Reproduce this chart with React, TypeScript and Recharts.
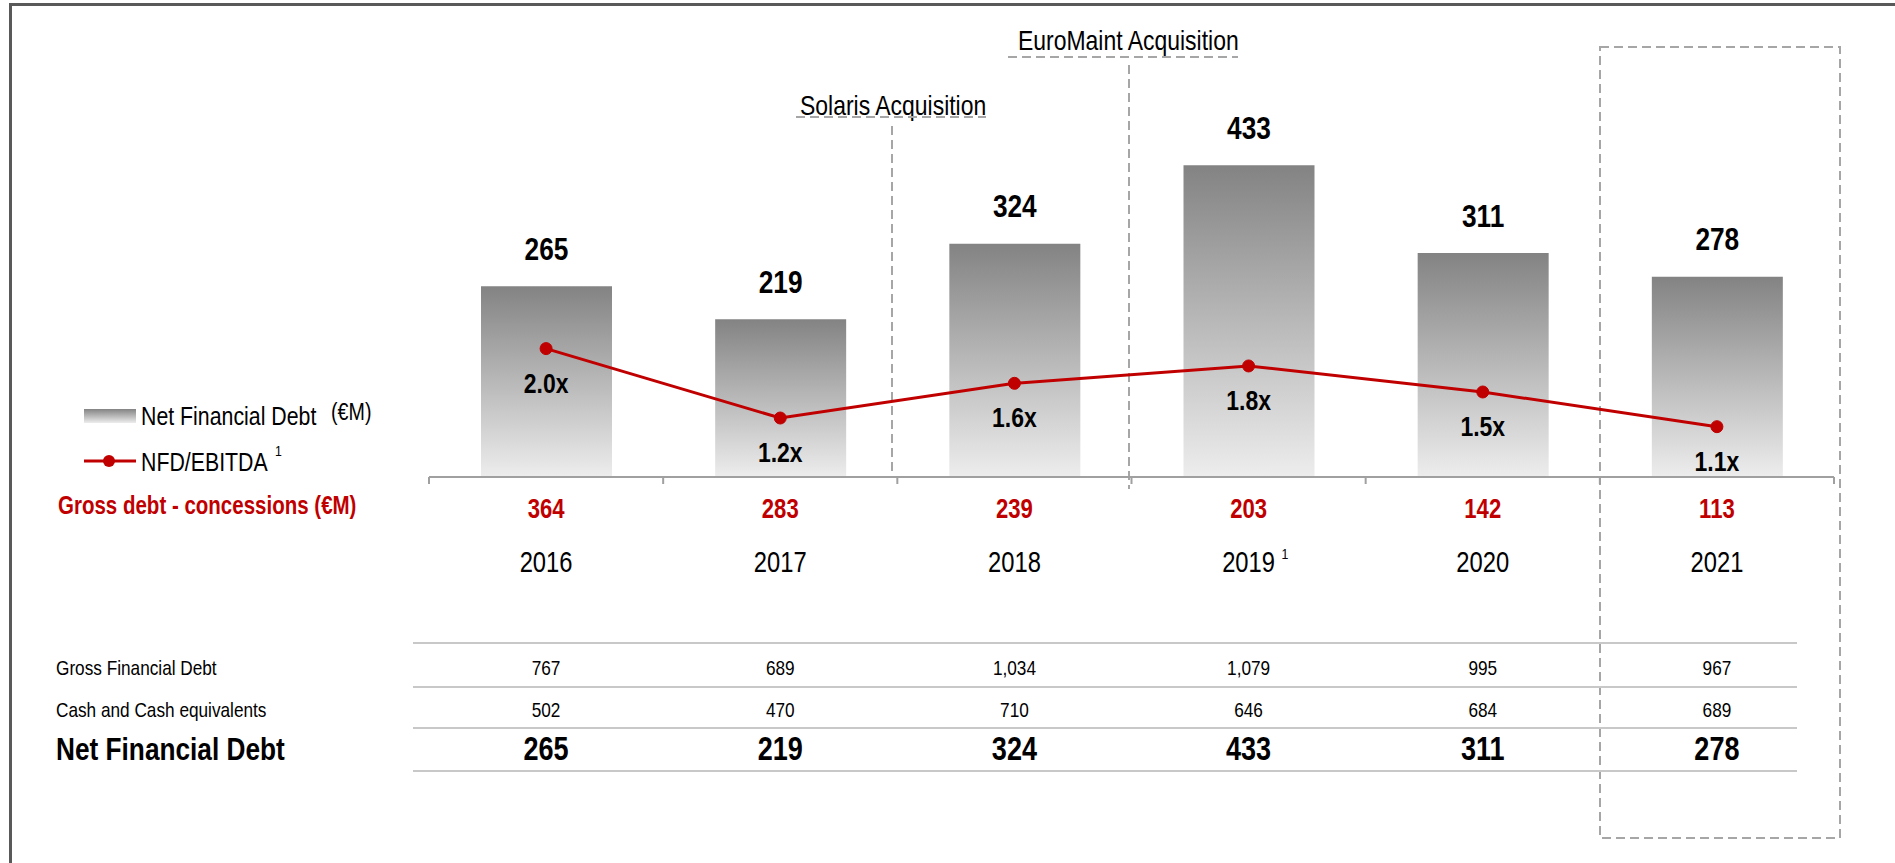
import { ComposedChart, Bar, Line, XAxis, YAxis, LabelList } from 'recharts';

const years = ['2016', '2017', '2018', '2019', '2020', '2021'];
const yearNotes = ['', '', '', '1', '', ''];
const netFinancialDebt = [265, 219, 324, 433, 311, 278];
const nfdEbitda = [2.0, 1.2, 1.6, 1.8, 1.5, 1.1];
const grossDebtConcessions = [364, 283, 239, 203, 142, 113];
const grossFinancialDebt = [767, 689, 1034, 1079, 995, 967];
const cashEquivalents = [502, 470, 710, 646, 684, 689];

const chartData = years.map((year, i) => ({
  year,
  nfd: netFinancialDebt[i],
  ratio: nfdEbitda[i]
}));

const FONT = "'Liberation Sans', Arial, sans-serif";
const NARROW = 0.82; // Arial Narrow is about 82% the width of Arial
const RED = '#C00000';
const DASH = '#a6a6a6';
const W = 1895;
const H = 863;
const PLOT_LEFT = 429;
const PLOT_RIGHT = 1834;
const PLOT_TOP = 117;
const PLOT_BOTTOM = 477;
const AXIS_H = 30;
const HALF_BAND = (PLOT_RIGHT - PLOT_LEFT) / years.length / 2;

const fmt = (n: number) => n.toLocaleString('en-US');

// narrow text, `cy` is where the middle of the capitals should sit
function NText({
  x,
  cy,
  size,
  bold = false,
  fill = '#000',
  anchor = 'start',
  children
}: {
  x: number;
  cy: number;
  size: number;
  bold?: boolean;
  fill?: string;
  anchor?: 'start' | 'middle' | 'end';
  children: any;
}) {
  return (
    <text
      transform={`translate(${x},${cy + size * 0.36}) scale(${NARROW},1)`}
      textAnchor={anchor}
      fontFamily={FONT}
      fontSize={size}
      fontWeight={bold ? 'bold' : 'normal'}
      fill={fill}
    >
      {children}
    </text>
  );
}

function CategoryTick(props: any) {
  const { x, payload } = props;
  const i = years.indexOf(payload.value);
  return (
    <g>
      <line x1={x - HALF_BAND} x2={x - HALF_BAND} y1={PLOT_BOTTOM} y2={PLOT_BOTTOM + 7} stroke="#a0a0a0" strokeWidth={2} />
      {i === years.length - 1 && (
        <line x1={x + HALF_BAND} x2={x + HALF_BAND} y1={PLOT_BOTTOM} y2={PLOT_BOTTOM + 7} stroke="#a0a0a0" strokeWidth={2} />
      )}
      <NText x={x} cy={508} size={27} bold fill={RED} anchor="middle">
        {grossDebtConcessions[i]}
      </NText>
      <NText x={x} cy={562} size={29} anchor="middle">
        {years[i]}
      </NText>
      {yearNotes[i] && (
        <NText x={x + 33} cy={554} size={15}>
          {yearNotes[i]}
        </NText>
      )}
      <NText x={x} cy={667} size={21} anchor="middle">
        {fmt(grossFinancialDebt[i])}
      </NText>
      <NText x={x} cy={709} size={21} anchor="middle">
        {fmt(cashEquivalents[i])}
      </NText>
      <NText x={x} cy={748} size={33} bold anchor="middle">
        {fmt(netFinancialDebt[i])}
      </NText>
    </g>
  );
}

function BarValueLabel(props: any) {
  const { x, y, width, value } = props;
  return (
    <NText x={x + width / 2} cy={y - 38} size={32} bold anchor="middle">
      {value}
    </NText>
  );
}

function RatioLabel(props: any) {
  const { x, y, value } = props;
  return (
    <NText x={x} cy={y + 34} size={28} bold anchor="middle">
      {Number(value).toFixed(1)}x
    </NText>
  );
}

function Decorations() {
  const dash = { stroke: DASH, strokeWidth: 2, strokeDasharray: '9 5', fill: 'none' };
  return (
    <svg width={W} height={H} style={{ position: 'absolute', left: 0, top: 0 }}>
      <defs>
        <linearGradient id="legendGrad" x1="0" y1="0" x2="0" y2="1">
          <stop offset="0%" stopColor="#838383" />
          <stop offset="100%" stopColor="#ededed" />
        </linearGradient>
      </defs>
      {/* frame */}
      <line x1={9} x2={W} y1={4.5} y2={4.5} stroke="#595959" strokeWidth={3} />
      <line x1={10.5} x2={10.5} y1={3} y2={H} stroke="#595959" strokeWidth={3} />

      {/* acquisitions */}
      <NText x={800} cy={105} size={28}>Solaris Acquisition</NText>
      <line x1={796} x2={986} y1={117} y2={117} {...dash} />
      <line x1={892} x2={892} y1={126} y2={472} {...dash} />
      <NText x={1018} cy={40} size={28}>EuroMaint Acquisition</NText>
      <line x1={1008} x2={1238} y1={57} y2={57} {...dash} />
      <line x1={1129} x2={1129} y1={65} y2={489} {...dash} />

      {/* 2021 highlight */}
      <rect x={1600} y={47} width={240} height={791} {...dash} />

      {/* legend */}
      <rect x={84} y={409} width={52} height={14} fill="url(#legendGrad)" />
      <NText x={141} cy={416} size={26}>Net Financial Debt</NText>
      <NText x={331} cy={411} size={24}>(€M)</NText>
      <line x1={84} x2={136} y1={461} y2={461} stroke={RED} strokeWidth={3} />
      <circle cx={109} cy={461} r={6} fill={RED} />
      <NText x={141} cy={462} size={26}>NFD/EBITDA</NText>
      <NText x={275} cy={451} size={15}>1</NText>

      <NText x={58} cy={505} size={25} bold fill={RED}>Gross debt - concessions (€M)</NText>

      {/* table */}
      {[643, 687, 728, 771].map((y) => (
        <line key={y} x1={413} x2={1797} y1={y} y2={y} stroke="#c8c8c8" strokeWidth={2} />
      ))}
      <NText x={56} cy={667} size={21}>Gross Financial Debt</NText>
      <NText x={56} cy={709} size={21}>Cash and Cash equivalents</NText>
      <NText x={56} cy={748} size={32} bold>Net Financial Debt</NText>
    </svg>
  );
}

export default function App() {
  return (
    <div style={{ position: 'relative', width: W, height: H, background: '#fff' }}>
      <style>{'body{margin:0}'}</style>
      <Decorations />
      <div style={{ position: 'absolute', left: 0, top: 0 }}>
        <ComposedChart
          width={W}
          height={H}
          data={chartData}
          margin={{ top: PLOT_TOP, right: W - PLOT_RIGHT, bottom: H - PLOT_BOTTOM - AXIS_H, left: PLOT_LEFT }}
        >
          <defs>
            <linearGradient id="barGrad" x1="0" y1="0" x2="0" y2="1">
              <stop offset="0%" stopColor="#838383" />
              <stop offset="100%" stopColor="#ededed" />
            </linearGradient>
          </defs>
          <XAxis
            dataKey="year"
            height={AXIS_H}
            interval={0}
            axisLine={{ stroke: '#a0a0a0', strokeWidth: 2 }}
            tickLine={false}
            tick={<CategoryTick />}
          />
          <YAxis yAxisId="debt" hide domain={[0, 500]} />
          <YAxis yAxisId="ratio" hide orientation="right" domain={[0.52, 4.67]} />
          <Bar yAxisId="debt" dataKey="nfd" barSize={131} fill="url(#barGrad)" isAnimationActive={false}>
            <LabelList dataKey="nfd" content={<BarValueLabel />} />
          </Bar>
          <Line
            yAxisId="ratio"
            dataKey="ratio"
            stroke={RED}
            strokeWidth={3}
            dot={{ r: 6, fill: RED, stroke: RED, strokeWidth: 1 }}
            activeDot={false}
            isAnimationActive={false}
          >
            <LabelList dataKey="ratio" content={<RatioLabel />} />
          </Line>
        </ComposedChart>
      </div>
    </div>
  );
}
